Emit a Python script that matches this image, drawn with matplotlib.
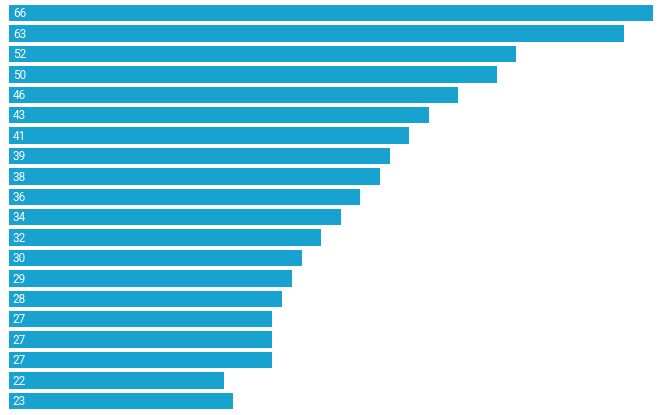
import matplotlib
matplotlib.use("Agg")
import matplotlib.pyplot as plt

values = [66, 63, 52, 50, 46, 43, 41, 39, 38, 36, 34, 32, 30, 29, 28, 27, 27, 27, 22, 23]
labels = [str(v) for v in values]

W, H = 658, 415
fig = plt.figure(figsize=(W / 100, H / 100), dpi=100)
ax = fig.add_axes([9 / W, (H - 411) / H, (653 - 9) / W, (411 - 3) / H])
y = list(range(len(values)))
ax.barh(y, values, height=0.81, color="#18a2cf", edgecolor="none")
ax.set_xlim(0, 66)
ax.set_ylim(len(values) - 0.5, -0.5)
for yi, lab in zip(y, labels):
    ax.text(0.4, yi + 0.03, lab, color="white", fontsize=8.5, va="center", ha="left", family="Roboto")
ax.axis("off")
fig.savefig("out.png", dpi=100)
